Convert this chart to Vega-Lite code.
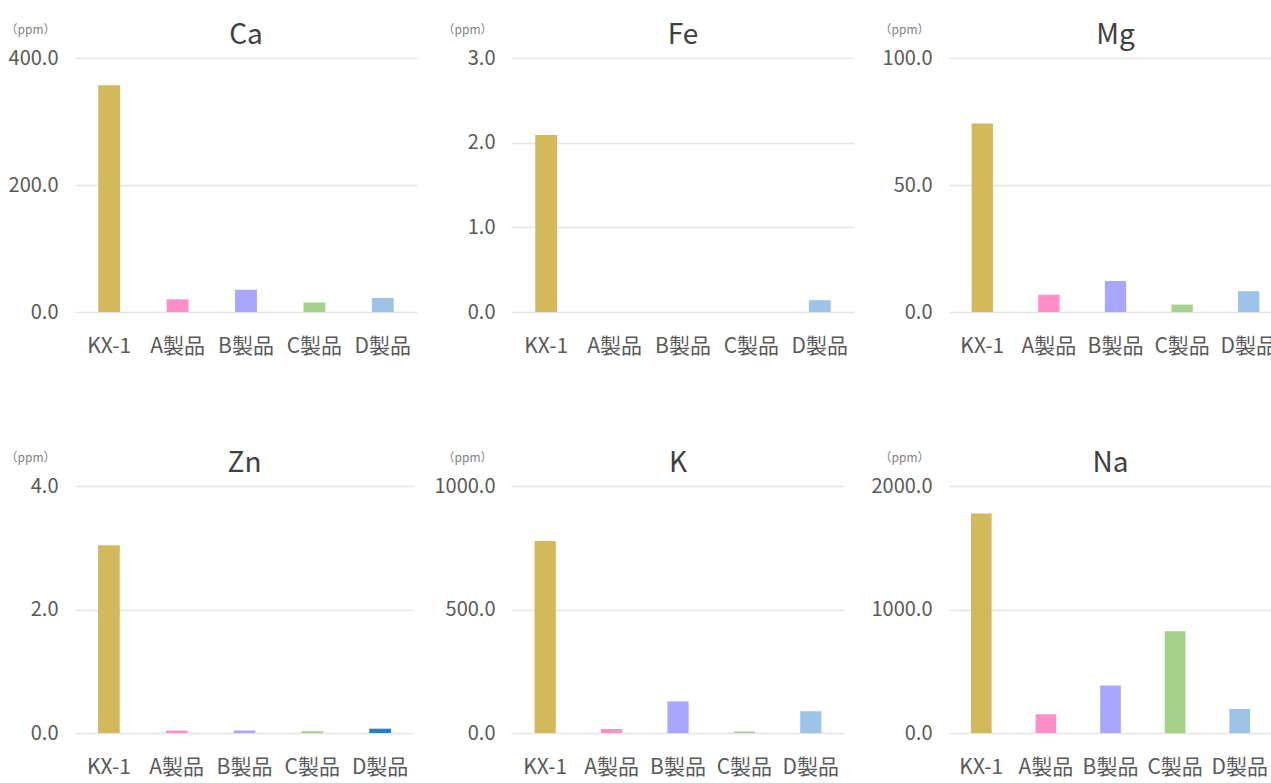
{
  "$schema": "https://vega.github.io/schema/vega-lite/v6.json",
  "autosize": {"type": "pad"},
  "padding": {"left": 5, "top": 22, "right": 0, "bottom": 0},
  "background": "white",
  "datasets": {
    "minerals": [
      {"element": "Ca", "product": "KX-1", "ppm": 357},
      {"element": "Ca", "product": "A製品", "ppm": 20},
      {"element": "Ca", "product": "B製品", "ppm": 35},
      {"element": "Ca", "product": "C製品", "ppm": 15},
      {"element": "Ca", "product": "D製品", "ppm": 22},
      {"element": "Fe", "product": "KX-1", "ppm": 2.09},
      {"element": "Fe", "product": "A製品", "ppm": 0},
      {"element": "Fe", "product": "B製品", "ppm": 0},
      {"element": "Fe", "product": "C製品", "ppm": 0},
      {"element": "Fe", "product": "D製品", "ppm": 0.14},
      {"element": "Mg", "product": "KX-1", "ppm": 74.2},
      {"element": "Mg", "product": "A製品", "ppm": 6.8},
      {"element": "Mg", "product": "B製品", "ppm": 12.2},
      {"element": "Mg", "product": "C製品", "ppm": 2.9},
      {"element": "Mg", "product": "D製品", "ppm": 8.2},
      {"element": "Zn", "product": "KX-1", "ppm": 3.04},
      {"element": "Zn", "product": "A製品", "ppm": 0.04},
      {"element": "Zn", "product": "B製品", "ppm": 0.04},
      {"element": "Zn", "product": "C製品", "ppm": 0.03},
      {"element": "Zn", "product": "D製品", "ppm": 0.07},
      {"element": "K", "product": "KX-1", "ppm": 777},
      {"element": "K", "product": "A製品", "ppm": 16},
      {"element": "K", "product": "B製品", "ppm": 128},
      {"element": "K", "product": "C製品", "ppm": 6},
      {"element": "K", "product": "D製品", "ppm": 88},
      {"element": "Na", "product": "KX-1", "ppm": 1778},
      {"element": "Na", "product": "A製品", "ppm": 152},
      {"element": "Na", "product": "B製品", "ppm": 384},
      {"element": "Na", "product": "C製品", "ppm": 823},
      {"element": "Na", "product": "D製品", "ppm": 195}
    ]
  },
  "config": {
    "view": {"stroke": null},
    "font": "Noto Sans CJK JP",
    "title": {"fontSize": 28, "fontWeight": "normal", "color": "#404040", "anchor": "middle", "offset": -27, "font": "Noto Sans CJK JP"},
    "axisX": {"domain": false, "ticks": false, "grid": false, "labelAngle": 0, "labelFontSize": 21, "labelColor": "#595959", "labelPadding": 23, "title": null, "labelFont": "Noto Sans CJK JP"},
    "axisY": {"domain": false, "ticks": false, "grid": true, "gridColor": "#e4e4e4", "gridWidth": 1.5, "labelFontSize": 20, "labelColor": "#595959", "labelPadding": 17, "format": ".1f", "labelFont": "Noto Sans CJK JP",
      "titleAngle": 0, "titleAlign": "right", "titleBaseline": "middle", "titleX": -20, "titleY": -29, "titleFontSize": 12, "titleFontWeight": "normal", "titleColor": "#7f7f7f", "titleFont": "Noto Sans CJK JP"},
    "bar": {"cornerRadius": 0}
  },
  "columns": 3,
  "bounds": "flush",
  "spacing": {"row": 174, "column": 95},
  "concat": [
    {
      "title": "Ca",
      "width": 342, "height": 254,
      "data": {"name": "minerals"},
      "transform": [{"filter": "datum.element === 'Ca'"}],
      "mark": "bar",
      "encoding": {
        "x": {"field": "product", "type": "nominal", "sort": ["KX-1", "A製品", "B製品", "C製品", "D製品"], "scale": {"paddingInner": 0.68, "paddingOuter": 0.34}},
        "y": {"field": "ppm", "type": "quantitative", "scale": {"domain": [0, 400]}, "axis": {"values": [0, 200, 400], "title": "（ppm）"}},
        "color": {"field": "product", "type": "nominal", "legend": null, "scale": {"domain": ["KX-1", "A製品", "B製品", "C製品", "D製品"], "range": ["#d4b85c", "#ff8fc8", "#a8a6ff", "#a6d18b", "#9dc3e6"]}}
      }
    },
    {
      "title": "Fe",
      "width": 342, "height": 254,
      "data": {"name": "minerals"},
      "transform": [{"filter": "datum.element === 'Fe'"}],
      "mark": "bar",
      "encoding": {
        "x": {"field": "product", "type": "nominal", "sort": ["KX-1", "A製品", "B製品", "C製品", "D製品"], "scale": {"paddingInner": 0.68, "paddingOuter": 0.34}},
        "y": {"field": "ppm", "type": "quantitative", "scale": {"domain": [0, 3]}, "axis": {"values": [0, 1, 2, 3], "title": "（ppm）"}},
        "color": {"field": "product", "type": "nominal", "legend": null, "scale": {"domain": ["KX-1", "A製品", "B製品", "C製品", "D製品"], "range": ["#d4b85c", "#ff8fc8", "#a8a6ff", "#a6d18b", "#9dc3e6"]}}
      }
    },
    {
      "title": "Mg",
      "width": 333, "height": 254,
      "data": {"name": "minerals"},
      "transform": [{"filter": "datum.element === 'Mg'"}],
      "mark": "bar",
      "encoding": {
        "x": {"field": "product", "type": "nominal", "sort": ["KX-1", "A製品", "B製品", "C製品", "D製品"], "scale": {"paddingInner": 0.68, "paddingOuter": 0.34}},
        "y": {"field": "ppm", "type": "quantitative", "scale": {"domain": [0, 100]}, "axis": {"values": [0, 50, 100], "title": "（ppm）"}},
        "color": {"field": "product", "type": "nominal", "legend": null, "scale": {"domain": ["KX-1", "A製品", "B製品", "C製品", "D製品"], "range": ["#d4b85c", "#ff8fc8", "#a8a6ff", "#a6d18b", "#9dc3e6"]}}
      }
    },
    {
      "title": "Zn",
      "width": 339, "height": 247,
      "data": {"name": "minerals"},
      "transform": [{"filter": "datum.element === 'Zn'"}],
      "mark": "bar",
      "encoding": {
        "x": {"field": "product", "type": "nominal", "sort": ["KX-1", "A製品", "B製品", "C製品", "D製品"], "scale": {"paddingInner": 0.68, "paddingOuter": 0.34}},
        "y": {"field": "ppm", "type": "quantitative", "scale": {"domain": [0, 4]}, "axis": {"values": [0, 2, 4], "title": "（ppm）"}},
        "color": {
          "condition": {"test": "datum.product === 'D製品'", "value": "#1f7fd3"},
          "field": "product", "type": "nominal", "legend": null, "scale": {"domain": ["KX-1", "A製品", "B製品", "C製品", "D製品"], "range": ["#d4b85c", "#ff8fc8", "#a8a6ff", "#a6d18b", "#9dc3e6"]}}
      }
    },
    {
      "title": "K",
      "width": 332, "height": 247,
      "data": {"name": "minerals"},
      "transform": [{"filter": "datum.element === 'K'"}],
      "mark": "bar",
      "encoding": {
        "x": {"field": "product", "type": "nominal", "sort": ["KX-1", "A製品", "B製品", "C製品", "D製品"], "scale": {"paddingInner": 0.68, "paddingOuter": 0.34}},
        "y": {"field": "ppm", "type": "quantitative", "scale": {"domain": [0, 1000]}, "axis": {"values": [0, 500, 1000], "title": "（ppm）"}},
        "color": {"field": "product", "type": "nominal", "legend": null, "scale": {"domain": ["KX-1", "A製品", "B製品", "C製品", "D製品"], "range": ["#d4b85c", "#ff8fc8", "#a8a6ff", "#a6d18b", "#9dc3e6"]}}
      }
    },
    {
      "title": "Na",
      "width": 323, "height": 247,
      "data": {"name": "minerals"},
      "transform": [{"filter": "datum.element === 'Na'"}],
      "mark": "bar",
      "encoding": {
        "x": {"field": "product", "type": "nominal", "sort": ["KX-1", "A製品", "B製品", "C製品", "D製品"], "scale": {"paddingInner": 0.68, "paddingOuter": 0.34}},
        "y": {"field": "ppm", "type": "quantitative", "scale": {"domain": [0, 2000]}, "axis": {"values": [0, 1000, 2000], "title": "（ppm）"}},
        "color": {"field": "product", "type": "nominal", "legend": null, "scale": {"domain": ["KX-1", "A製品", "B製品", "C製品", "D製品"], "range": ["#d4b85c", "#ff8fc8", "#a8a6ff", "#a6d18b", "#9dc3e6"]}}
      }
    }
  ]
}
